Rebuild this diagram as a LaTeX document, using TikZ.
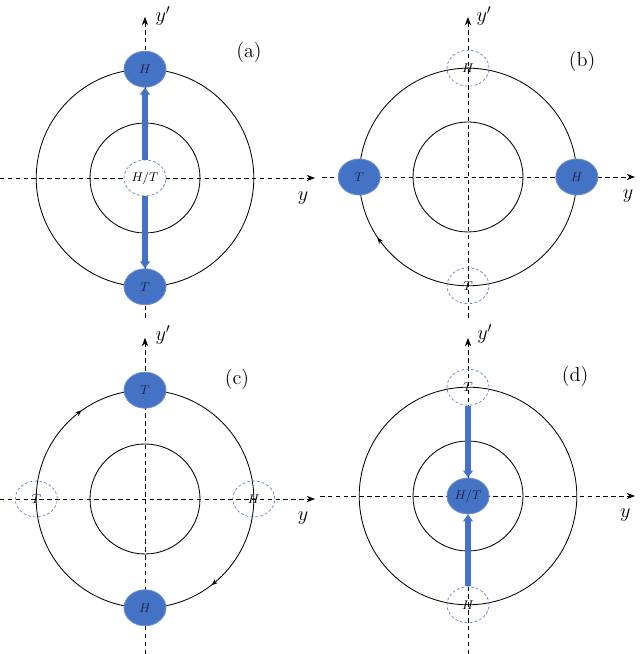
\documentclass[tikz,border=0pt]{standalone}
\usepackage{xcolor}
\usepackage{tikz}
\usetikzlibrary{
  positioning, arrows.meta, shapes.geometric, calc,
  decorations.markings
}
\definecolor{spinBlue}{HTML}{4472C4}
\definecolor{spinEdge}{HTML}{6D8FD3}
\definecolor{spinGhost}{HTML}{5F82C8}
\definecolor{spinInk}{HTML}{1A2440}

\begin{document}
\begin{tikzpicture}[
  every node/.style={font=\small},
  pole/.style={
    ellipse, minimum width=1.05cm, minimum height=0.9cm, inner sep=0pt,
    fill=spinBlue, draw=spinEdge, line width=0.6pt, text=spinInk
  },
  ghost/.style={
    ellipse, minimum width=1.05cm, minimum height=0.9cm, inner sep=0pt,
    draw=spinGhost, dash pattern=on 2pt off 1.5pt, line width=0.5pt
  },
  axis/.style={
    -{Stealth[length=6pt, width=4.5pt]}, dash pattern=on 3.2pt off 2.4pt,
    line width=0.6pt
  },
  orbit/.style={line width=0.6pt},
  flow/.style={
    postaction={decorate, decoration={markings,
      mark=at position #1 with {\arrow{Stealth[length=4.5pt, width=3.5pt, reversed]}}}}
  },
  push/.style={
    -{Triangle[length=5pt, width=7pt]}, line width=3.6pt, draw=spinBlue
  },
  axlabel/.style={font=\Large},
  tag/.style={font=\Large},
]
\useasboundingbox (0,0) rectangle (16,16.35);

% === PANEL (a) ===
\begin{scope}[shift={(3.625,11.9)}]
  \coordinate (aW) at (-3.625,0);
  \coordinate (aE) at (4.25,0);
  \coordinate (aS) at (0,-3.5);
  \coordinate (aN) at (0,4.03);
  \draw[axis] (aW) -- (aE);
  \draw[axis] (aS) -- (aN);
  \draw[orbit] (0,0) circle (2.72);
  \draw[orbit] (0,0) circle (1.375);
  \node[ghost, fill=white] (aHT) at (0,0) {$H/T$};
  \node[pole] (aH) at (0,2.72) {$H$};
  \node[pole] (aT) at (0,-2.72) {$T$};
  \draw[push] (aHT) -- (aH);
  \draw[push] (aHT) -- (aT);
  \node[axlabel] (aYp) at (0.45,4.05) {$y'$};
  \node[axlabel] (aY) at (3.95,-0.5) {$y$};
  \node[tag] (aTag) at (2.6,3.15) {(a)};
\end{scope}

% === PANEL (b) ===
\begin{scope}[shift={(11.7,11.925)}]
  \coordinate (bW) at (-3.65,0);
  \coordinate (bE) at (4.175,0);
  \coordinate (bS) at (0,-3.525);
  \coordinate (bN) at (0,4.0);
  \draw[axis] (bW) -- (bE);
  \draw[axis] (bS) -- (bN);
  \draw[orbit, flow=0.603] (0,0) circle (2.72);
  \draw[orbit] (0,0) circle (1.375);
  \node[ghost] (bH0) at (0,2.72) {$H$};
  \node[ghost] (bT0) at (0,-2.72) {$T$};
  \node[pole] (bT) at (-2.72,0) {$T$};
  \node[pole] (bH) at (2.72,0) {$H$};
  \node[axlabel] (bYp) at (0.4,4.03) {$y'$};
  \node[axlabel] (bY) at (4.0,-0.47) {$y$};
  \node[tag] (bTag) at (2.85,2.9) {(b)};
\end{scope}

% === PANEL (c) ===
\begin{scope}[shift={(3.625,3.875)}]
  \coordinate (cW) at (-3.625,0);
  \coordinate (cE) at (4.25,0);
  \coordinate (cS) at (0,-3.875);
  \coordinate (cN) at (0,4.03);
  \draw[axis] (cW) -- (cE);
  \draw[axis] (cS) -- (cN);
  \draw[orbit, flow=0.358, flow=0.864] (0,0) circle (2.72);
  \draw[orbit] (0,0) circle (1.375);
  \node[ghost] (cT0) at (-2.72,0) {$T$};
  \node[ghost] (cH0) at (2.72,0) {$H$};
  \node[pole] (cT) at (0,2.72) {$T$};
  \node[pole] (cH) at (0,-2.72) {$H$};
  \node[axlabel] (cYp) at (0.45,4.1) {$y'$};
  \node[axlabel] (cY) at (3.95,-0.47) {$y$};
  \node[tag] (cTag) at (2.3,2.98) {(c)};
\end{scope}

% === PANEL (d) ===
\begin{scope}[shift={(11.7,3.95)}]
  \coordinate (dW) at (-3.7,0);
  \coordinate (dE) at (4.175,0);
  \coordinate (dS) at (0,-3.95);
  \coordinate (dN) at (0,3.95);
  \draw[axis] (dW) -- (dE);
  \draw[axis] (dS) -- (dN);
  \draw[orbit] (0,0) circle (2.72);
  \draw[orbit] (0,0) circle (1.375);
  \node[ghost] (dT0) at (0,2.72) {$T$};
  \node[ghost] (dH0) at (0,-2.72) {$H$};
  \node[pole] (dHT) at (0,0) {$H/T$};
  \draw[push] (dT0) -- (dHT);
  \draw[push] (dH0) -- (dHT);
  \node[axlabel] (dYp) at (0.42,4.05) {$y'$};
  \node[axlabel] (dY) at (3.93,-0.47) {$y$};
  \node[tag] (dTag) at (2.68,3.0) {(d)};
\end{scope}

\end{tikzpicture}
\end{document}
